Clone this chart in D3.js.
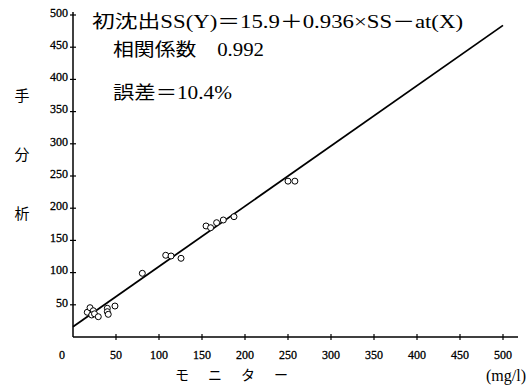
<!DOCTYPE html>
<html>
<head>
<meta charset="utf-8">
<script src="https://cdn.jsdelivr.net/npm/d3@7"></script>
<style>
  body { margin: 0; background: #fff; }
  svg { display: block; }
</style>
</head>
<body>
<div id="chart"></div>
<script>
// monitor (X) vs manual analysis (Y), mg/l
const monitorValues = [16.6, 19.8, 23.6, 21.7, 25, 29.4, 39.9, 39.9, 41, 48.8, 80.6, 107.8, 114, 125.6, 154.7, 160, 167, 174.8, 187.2, 250, 258]
const manualValues = [38.4, 45.5, 40.8, 34.2, 36, 31.5, 44.6, 39.3, 35.2, 48.1, 98.9, 126.9, 125.8, 122.2, 172.4, 169.7, 177.5, 181.7, 186.8, 242, 242]
const xTicks = [50, 100, 150, 200, 250, 300, 350, 400, 450, 500]
const yTicks = [50, 100, 150, 200, 250, 300, 350, 400, 450, 500]
const fitIntercept = 15.9
const fitSlope = 0.936
const notes = ['初沈出SS(Y)＝15.9＋0.936×SS－at(X)', '相関係数　0.992', '誤差＝10.4%']

const width = 530
const height = 386
const margin = { top: 15, left: 73, right: 27, bottom: 49 }

const svg = d3
  .select('#chart')
  .append('svg')
  .attr('width', width)
  .attr('height', height)

const xScale = d3.scaleLinear().domain([0, 500]).range([margin.left, 503])
const yScale = d3.scaleLinear().domain([0, 500]).range([height - margin.bottom, margin.top])

const serif = '"Liberation Serif", "DejaVu Serif", "Noto Sans CJK JP", serif'

// axes lines
svg.append('line')
  .attr('x1', xScale(0)).attr('x2', xScale(0))
  .attr('y1', yScale(0)).attr('y2', yScale(500) - 3)
  .attr('stroke', '#000').attr('stroke-width', 1.5)

svg.append('line')
  .attr('x1', xScale(0)).attr('x2', 518)
  .attr('y1', yScale(0)).attr('y2', yScale(0))
  .attr('stroke', '#000').attr('stroke-width', 1.5)

// cross ticks
svg.selectAll('.ytick')
  .data(yTicks)
  .enter()
  .append('line')
  .attr('x1', xScale(0) - 3).attr('x2', xScale(0) + 3)
  .attr('y1', d => yScale(d)).attr('y2', d => yScale(d))
  .attr('stroke', '#000').attr('stroke-width', 1.2)

svg.selectAll('.xtick')
  .data(xTicks)
  .enter()
  .append('line')
  .attr('x1', d => xScale(d)).attr('x2', d => xScale(d))
  .attr('y1', yScale(0) - 3).attr('y2', yScale(0) + 3)
  .attr('stroke', '#000').attr('stroke-width', 1.2)

svg.selectAll('.ylabel')
  .data(yTicks)
  .enter()
  .append('text')
  .attr('x', xScale(0) - 5)
  .attr('y', d => yScale(d))
  .attr('dy', '0.15em')
  .attr('text-anchor', 'end')
  .attr('font-family', serif)
  .attr('font-size', 12)
  .attr('stroke', '#000')
  .attr('stroke-width', 0.3)
  .text(d => d)

svg.selectAll('.xlabel')
  .data(xTicks)
  .enter()
  .append('text')
  .attr('x', d => xScale(d))
  .attr('y', 359)
  .attr('text-anchor', 'middle')
  .attr('font-family', serif)
  .attr('font-size', 12)
  .attr('stroke', '#000')
  .attr('stroke-width', 0.3)
  .text(d => d)

svg.append('text')
  .attr('x', 62).attr('y', 359)
  .attr('text-anchor', 'middle')
  .attr('font-family', serif)
  .attr('font-size', 12)
  .attr('stroke', '#000')
  .attr('stroke-width', 0.3)
  .text(0)

// axis titles
const yTitle = ['手', '分', '析']
svg.selectAll('.ytitle')
  .data(yTitle)
  .enter()
  .append('text')
  .attr('x', 22)
  .attr('y', (d, i) => 101 + i * 59)
  .attr('text-anchor', 'middle')
  .attr('font-family', serif)
  .attr('font-size', 15)
  .text(d => d)

const xTitle = ['モ', 'ニ', 'タ', 'ー']
svg.selectAll('.xtitle')
  .data(xTitle)
  .enter()
  .append('text')
  .attr('x', (d, i) => 182 + i * 33)
  .attr('y', 380)
  .attr('text-anchor', 'middle')
  .attr('font-family', serif)
  .attr('font-size', 14)
  .text(d => d)

svg.append('text')
  .attr('x', 526).attr('y', 381)
  .attr('text-anchor', 'end')
  .attr('font-family', serif)
  .attr('font-size', 16)
  .text('(mg/l)')

// regression line
const line = d3.line()
  .x(d => xScale(d))
  .y(d => yScale(fitIntercept + fitSlope * d))

svg.append('path')
  .datum([0, 500])
  .attr('d', line)
  .attr('fill', 'none')
  .attr('stroke', '#000')
  .attr('stroke-width', 1.8)

// points
svg.selectAll('.pt')
  .data(monitorValues)
  .enter()
  .append('circle')
  .attr('cx', d => xScale(d))
  .attr('cy', (d, i) => yScale(manualValues[i]))
  .attr('r', 3)
  .attr('fill', '#fff')
  .attr('stroke', '#000')
  .attr('stroke-width', 1)

// annotations
svg.selectAll('.note')
  .data(notes)
  .enter()
  .append('text')
  .attr('x', (d, i) => (i === 0 ? 92 : 113))
  .attr('y', (d, i) => [28, 56, 99][i])
  .attr('font-family', serif)
  .attr('font-size', 18)
  .attr('textLength', (d, i) => [371, 151, 119][i])
  .attr('lengthAdjust', 'spacingAndGlyphs')
  .text(d => d)
</script>
</body>
</html>
